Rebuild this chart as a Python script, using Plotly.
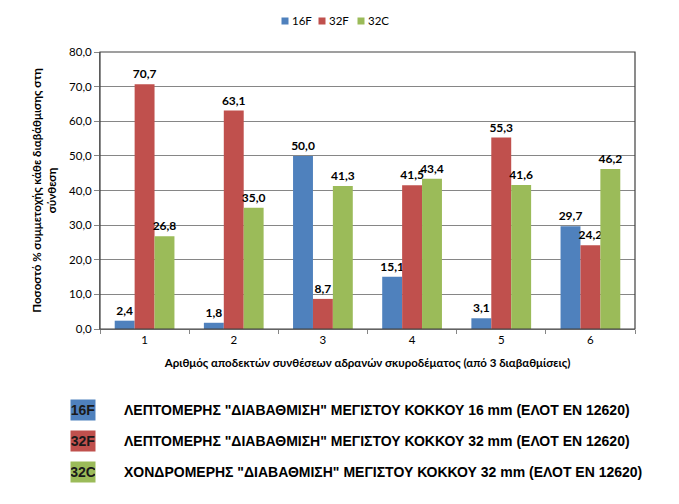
import plotly.graph_objects as go

categories = ["1", "2", "3", "4", "5", "6"]
s16F = [2.4, 1.8, 50.0, 15.1, 3.1, 29.7]
s32F = [70.7, 63.1, 8.7, 41.5, 55.3, 24.2]
s32C = [26.8, 35.0, 41.3, 43.4, 41.6, 46.2]
series_names = ["16F", "32F", "32C"]
colors = ["#4F81BD", "#C0504D", "#9BBB59"]
legend_texts = [
    'ΛΕΠΤΟΜΕΡΗΣ "ΔΙΑΒΑΘΜΙΣΗ" ΜΕΓΙΣΤΟΥ ΚΟΚΚΟΥ 16 mm (ΕΛΟΤ ΕΝ 12620)',
    'ΛΕΠΤΟΜΕΡΗΣ "ΔΙΑΒΑΘΜΙΣΗ" ΜΕΓΙΣΤΟΥ ΚΟΚΚΟΥ 32 mm (ΕΛΟΤ ΕΝ 12620)',
    'ΧΟΝΔΡΟΜΕΡΗΣ "ΔΙΑΒΑΘΜΙΣΗ" ΜΕΓΙΣΤΟΥ ΚΟΚΚΟΥ 32 mm (ΕΛΟΤ ΕΝ 12620)',
]

FONT = "Lato, 'Noto Sans', sans-serif"
ARIALN = "'Liberation Sans Narrow', 'Liberation Sans', sans-serif"

L, R, T, B = 100, 44, 52, 175
W, H = 679, 504
PW, PH = W - L - R, H - T - B

def px(xp):
    return (xp - L) / PW

def py(yp):
    return 1 - (yp - T) / PH

fig = go.Figure()
for name, vals, col in zip(series_names, [s16F, s32F, s32C], colors):
    fig.add_trace(go.Bar(
        x=categories, y=vals, name=name, marker=dict(color=col, line=dict(width=0)),
        texttemplate="%{y:.1f}", textposition="outside", cliponaxis=False,
        constraintext="none",
        textfont=dict(family=FONT, size=12, color="#000000", weight="bold"),
        showlegend=False,
    ))

fig.update_layout(
    width=W, height=H,
    margin=dict(l=L, r=R, t=T, b=B),
    paper_bgcolor="white", plot_bgcolor="white",
    separators=",.",
    barmode="group", bargap=0.33, bargroupgap=0,
    font=dict(family=FONT, size=11, color="#000000"),
    xaxis=dict(
        type="category", showline=True, linecolor="#868686", linewidth=1,
        ticks="outside", ticklen=4, tickcolor="#868686", tickson="boundaries",
        tickfont=dict(family=FONT, size=11.5),
        mirror=False, showgrid=False,
        title=dict(text="<b>Αριθμός αποδεκτών συνθέσεων αδρανών σκυροδέματος (από 3 διαβαθμίσεις)</b>",
                   font=dict(family=FONT, size=11.5), standoff=14),
    ),
    yaxis=dict(
        range=[0, 80], dtick=10, tickformat=".1f",
        showline=True, linecolor="#868686", linewidth=1,
        ticks="outside", ticklen=5, tickcolor="#868686",
        showgrid=True, gridcolor="#868686", gridwidth=1,
        tickfont=dict(family=FONT, size=11.5),
        title=dict(text="<b>Ποσοστό % συμμετοχής κάθε διαβάθμισης στη<br>σύνθεση</b>",
                   font=dict(family=FONT, size=11.5), standoff=10),
    ),
)

# plot frame
fig.add_shape(type="rect", xref="paper", yref="paper", x0=0, x1=1, y0=0, y1=1,
              line=dict(color="#404040", width=1.2), fillcolor="rgba(0,0,0,0)", layer="above")

# top legend (compact, Excel style)
top_x = [285, 322, 361]
for lab, col, xs in zip(series_names, colors, top_x):
    fig.add_annotation(xref="paper", yref="paper", x=px(xs), y=py(21),
                       text=" ", showarrow=False, bgcolor=col, width=6, height=6,
                       borderpad=0, font=dict(size=4), xanchor="center", yanchor="middle")
    fig.add_annotation(xref="paper", yref="paper", x=px(xs + 5), y=py(21),
                       text=lab, showarrow=False,
                       font=dict(family=FONT, size=11.5, color="#000000"),
                       xanchor="left", yanchor="middle")

# bottom custom legend
ys = [410, 441, 472]
for lab, txt, col, ypx in zip(series_names, legend_texts, colors, ys):
    fig.add_annotation(xref="paper", yref="paper", x=px(83), y=py(ypx),
                       text="<b>" + lab + "</b>", showarrow=False, bgcolor=col,
                       font=dict(family=ARIALN, size=14, color="#1a1a1a"),
                       width=24, height=20, borderpad=0, xanchor="center", yanchor="middle")
    fig.add_annotation(xref="paper", yref="paper", x=px(122), y=py(ypx),
                       text="<b>" + txt + "</b>", showarrow=False,
                       font=dict(family=ARIALN, size=14, color="#000000"),
                       xanchor="left", yanchor="middle")

fig.write_html("out.html")
